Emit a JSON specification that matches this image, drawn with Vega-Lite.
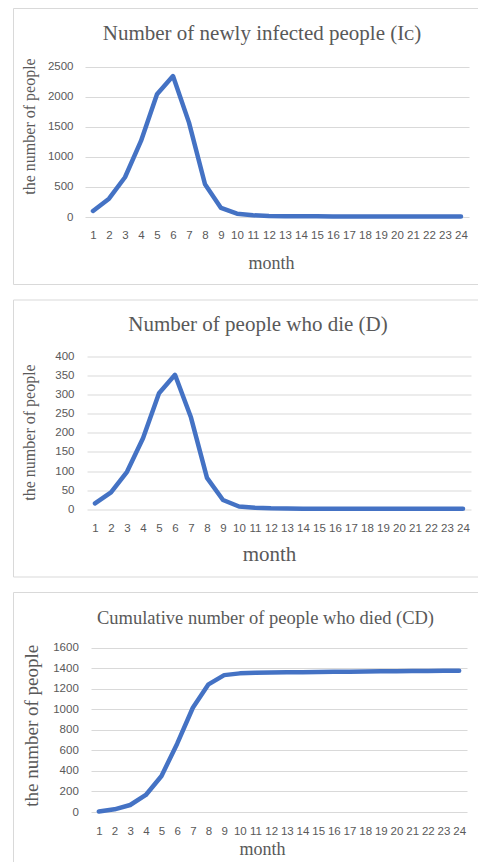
{
  "$schema": "https://vega.github.io/schema/vega-lite/v6.json",
  "background": "white",
  "padding": {"left": 12, "top": 7, "right": 0, "bottom": 0},
  "spacing": 15.5,
  "bounds": "flush",
  "config": {
    "view": {"stroke": "#d9d9d9", "strokeWidth": 1},
    "axis": {
      "labelFont": "Liberation Sans",
      "labelFontSize": 11.5,
      "labelColor": "#595959",
      "titleFont": "Liberation Serif",
      "titleColor": "#595959",
      "titleFontWeight": "normal",
      "domain": false,
      "ticks": false,
      "tickSize": 0,
      "gridColor": "#d9d9d9",
      "gridWidth": 1
    },
    "title": {"font": "Liberation Serif", "color": "#595959", "fontWeight": "normal"},
    "line": {"color": "#4472C4", "strokeWidth": 4.5, "strokeCap": "round", "strokeJoin": "round"}
  },
  "datasets": {
    "series": [
      {"month": 1, "newly_infected": 100, "deaths": 15, "cumulative_deaths": 5},
      {"month": 2, "newly_infected": 305, "deaths": 44, "cumulative_deaths": 26},
      {"month": 3, "newly_infected": 661, "deaths": 98, "cumulative_deaths": 68},
      {"month": 4, "newly_infected": 1265, "deaths": 186, "cumulative_deaths": 166},
      {"month": 5, "newly_infected": 2040, "deaths": 304, "cumulative_deaths": 351},
      {"month": 6, "newly_infected": 2344, "deaths": 352, "cumulative_deaths": 665},
      {"month": 7, "newly_infected": 1570, "deaths": 240, "cumulative_deaths": 1015},
      {"month": 8, "newly_infected": 545, "deaths": 82, "cumulative_deaths": 1243},
      {"month": 9, "newly_infected": 150, "deaths": 24, "cumulative_deaths": 1333},
      {"month": 10, "newly_infected": 55, "deaths": 7, "cumulative_deaths": 1350},
      {"month": 11, "newly_infected": 28, "deaths": 4, "cumulative_deaths": 1355},
      {"month": 12, "newly_infected": 18, "deaths": 2.5, "cumulative_deaths": 1358},
      {"month": 13, "newly_infected": 14, "deaths": 2, "cumulative_deaths": 1360},
      {"month": 14, "newly_infected": 12, "deaths": 1.5, "cumulative_deaths": 1362},
      {"month": 15, "newly_infected": 11, "deaths": 1.3, "cumulative_deaths": 1364},
      {"month": 16, "newly_infected": 10, "deaths": 1.2, "cumulative_deaths": 1365},
      {"month": 17, "newly_infected": 10, "deaths": 1.1, "cumulative_deaths": 1367},
      {"month": 18, "newly_infected": 9, "deaths": 1, "cumulative_deaths": 1368},
      {"month": 19, "newly_infected": 9, "deaths": 1, "cumulative_deaths": 1370},
      {"month": 20, "newly_infected": 8, "deaths": 1, "cumulative_deaths": 1371},
      {"month": 21, "newly_infected": 8, "deaths": 1, "cumulative_deaths": 1372},
      {"month": 22, "newly_infected": 8, "deaths": 1, "cumulative_deaths": 1374},
      {"month": 23, "newly_infected": 7, "deaths": 1, "cumulative_deaths": 1375},
      {"month": 24, "newly_infected": 7, "deaths": 1, "cumulative_deaths": 1376}
    ]
  },
  "vconcat": [
    {
      "width": 466,
      "height": 276,
      "data": {"name": "series"},
      "title": {"text": "Number of newly infected people (Iᴄ)", "fontSize": 21, "anchor": "middle", "frame": "group", "baseline": "middle", "offset": -46.5, "dx": 16},
      "mark": {"type": "line"},
      "encoding": {
        "x": {
          "field": "month", "type": "quantitative",
          "scale": {"domain": [0.5, 24.5], "range": [72, 456], "nice": false, "zero": false},
          "axis": {"title": "month", "values": [1,2,3,4,5,6,7,8,9,10,11,12,13,14,15,16,17,18,19,20,21,22,23,24], "format": "d", "grid": false, "offset": -67, "labelPadding": 12, "titleFontSize": 18, "titleX": 258, "titleY": 46, "titleBaseline": "middle"}
        },
        "y": {
          "field": "newly_infected", "type": "quantitative",
          "scale": {"domain": [0, 2500], "range": [209, 58.7], "nice": false},
          "axis": {"title": "the number of people", "values": [0, 500, 1000, 1500, 2000, 2500], "format": "d", "grid": true, "offset": -72, "labelPadding": 12, "titleFontSize": 16, "titleX": -56, "titleY": 118, "titleBaseline": "middle", "titleAngle": -90}
        }
      }
    },
    {
      "width": 466,
      "height": 277,
      "data": {"name": "series"},
      "title": {"text": "Number of people who die (D)", "fontSize": 21, "anchor": "middle", "frame": "group", "baseline": "middle", "offset": -46.5, "dx": 12},
      "mark": {"type": "line"},
      "encoding": {
        "x": {
          "field": "month", "type": "quantitative",
          "scale": {"domain": [0.5, 24.5], "range": [74, 458], "nice": false, "zero": false},
          "axis": {"title": "month", "values": [1,2,3,4,5,6,7,8,9,10,11,12,13,14,15,16,17,18,19,20,21,22,23,24], "format": "d", "grid": false, "offset": -67.3, "labelPadding": 13, "titleFontSize": 21, "titleX": 256, "titleY": 45.3, "titleBaseline": "middle"}
        },
        "y": {
          "field": "deaths", "type": "quantitative",
          "scale": {"domain": [0, 400], "range": [209.7, 57], "nice": false},
          "axis": {"title": "the number of people", "values": [0, 50, 100, 150, 200, 250, 300, 350, 400], "format": "d", "grid": true, "offset": -74, "labelPadding": 13, "titleFontSize": 16, "titleX": -58, "titleY": 132.5, "titleBaseline": "middle", "titleAngle": -90}
        }
      }
    },
    {
      "width": 466,
      "height": 271,
      "data": {"name": "series"},
      "title": {"text": "Cumulative number of people who died (CD)", "fontSize": 18.5, "anchor": "middle", "frame": "group", "baseline": "middle", "offset": -44.5, "dx": 19.5},
      "mark": {"type": "line"},
      "encoding": {
        "x": {
          "field": "month", "type": "quantitative",
          "scale": {"domain": [0.5, 24.5], "range": [78, 454], "nice": false, "zero": false},
          "axis": {"title": "month", "values": [1,2,3,4,5,6,7,8,9,10,11,12,13,14,15,16,17,18,19,20,21,22,23,24], "format": "d", "grid": false, "offset": -51, "labelPadding": 13, "titleFontSize": 18, "titleX": 249, "titleY": 37.3, "titleBaseline": "middle"}
        },
        "y": {
          "field": "cumulative_deaths", "type": "quantitative",
          "scale": {"domain": [0, 1600], "range": [220, 55.7], "nice": false},
          "axis": {"title": "the number of people", "values": [0, 200, 400, 600, 800, 1000, 1200, 1400, 1600], "format": "d", "grid": true, "offset": -78, "labelPadding": 12.7, "titleFontSize": 19, "titleX": -59.3, "titleY": 133.3, "titleBaseline": "middle", "titleAngle": -90}
        }
      }
    }
  ]
}
